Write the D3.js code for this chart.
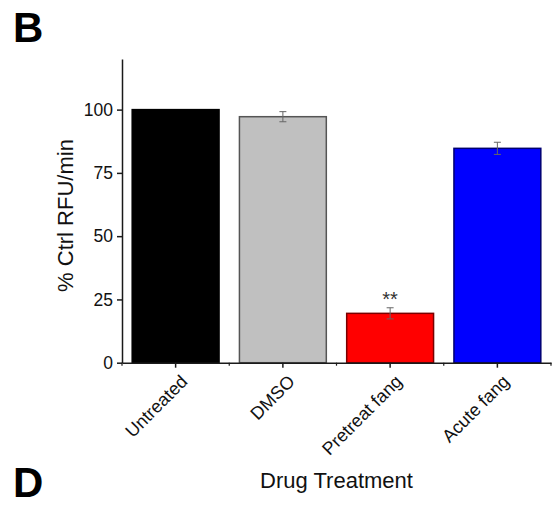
<!DOCTYPE html>
<html>
<head>
<meta charset="utf-8">
<script src="https://cdn.jsdelivr.net/npm/d3@7"></script>
<style>
  html, body { margin: 0; padding: 0; background: #fff; }
  svg { display: block; font-family: "Liberation Sans", Arial, sans-serif; }
</style>
</head>
<body>
<svg id="chart" width="556" height="505"></svg>
<script>
// Treatment groups and measured rate (% of control RFU/min), mean ± SEM
const categories = ["Untreated", "DMSO", "Pretreat fang", "Acute fang"];
const values = [100, 97.2, 19.5, 84.7];
const errors = [0, 2.0, 2.2, 2.4];
const fills = ["#000000", "#c0c0c0", "#ff0000", "#0000ff"];
const strokes = ["#000000", "#555555", "#7a0000", "#000070"];
const significance = ["", "", "**", ""];
const yTicks = [0, 25, 50, 75, 100];

const svg = d3.select("#chart");

const x = d3.scaleBand()
  .domain(categories)
  .range([122, 551])
  .paddingInner(0.19)
  .paddingOuter(0.095);

const y = d3.scaleLinear()
  .domain([0, 120])
  .range([362.7, 59]);

// bars
svg.append("g").selectAll("rect")
  .data(categories)
  .join("rect")
  .attr("x", d => x(d))
  .attr("y", (d, i) => y(values[i]))
  .attr("width", x.bandwidth())
  .attr("height", (d, i) => y(0) - y(values[i]))
  .attr("fill", (d, i) => fills[i])
  .attr("stroke", (d, i) => strokes[i])
  .attr("stroke-width", 1.5);

// error bars
const eb = svg.append("g").attr("stroke", "#666").attr("stroke-width", 1);
categories.forEach((c, i) => {
  if (!errors[i]) return;
  const cx = x(c) + x.bandwidth() / 2;
  const hi = y(values[i] + errors[i]), lo = y(values[i] - errors[i]);
  eb.append("line").attr("x1", cx).attr("x2", cx).attr("y1", hi).attr("y2", lo);
  eb.append("line").attr("x1", cx - 3.5).attr("x2", cx + 3.5).attr("y1", hi).attr("y2", hi);
  eb.append("line").attr("x1", cx - 3.5).attr("x2", cx + 3.5).attr("y1", lo).attr("y2", lo);
});

// significance marks
svg.append("g").selectAll("text")
  .data(categories)
  .join("text")
  .attr("x", d => x(d) + x.bandwidth() / 2)
  .attr("y", (d, i) => y(values[i] + errors[i]) - 2)
  .attr("text-anchor", "middle")
  .attr("font-size", 20)
  .attr("fill", "#333")
  .text((d, i) => significance[i]);

// y axis
const yAxis = svg.append("g")
  .attr("transform", "translate(122,0)")
  .call(d3.axisLeft(y).tickValues(yTicks).tickSize(5).tickSizeOuter(0).tickPadding(4));
yAxis.select(".domain").attr("stroke", "#1a1a1a").attr("stroke-width", 1.5);
yAxis.selectAll(".tick line").attr("stroke", "#1a1a1a").attr("stroke-width", 1.5);
yAxis.selectAll(".tick text")
  .attr("font-size", 17.5)
  .attr("font-family", "Liberation Sans, Arial, sans-serif")
  .attr("fill", "#111");

// x axis
const xAxis = svg.append("g")
  .attr("transform", `translate(0,${y(0)})`)
  .call(d3.axisBottom(x).tickSize(5).tickSizeOuter(0));
xAxis.select(".domain").attr("stroke", "#1a1a1a").attr("stroke-width", 1.5);
xAxis.selectAll(".tick line").attr("stroke", "#1a1a1a").attr("stroke-width", 1.5);
xAxis.selectAll(".tick text")
  .attr("font-size", 18)
  .attr("font-family", "Liberation Sans, Arial, sans-serif")
  .attr("fill", "#111")
  .attr("text-anchor", "end")
  .attr("dy", null)
  .attr("y", 0)
  .attr("transform", "translate(13,20) rotate(-45)");

// minor ticks at category boundaries
const bounds = d3.range(categories.length + 1).map(i => x.range()[0] + i * x.step());
xAxis.append("g").selectAll("line")
  .data(bounds)
  .join("line")
  .attr("x1", d => d).attr("x2", d => d)
  .attr("y1", 0).attr("y2", 3)
  .attr("stroke", "#1a1a1a").attr("stroke-width", 1.2);

// axis titles
svg.append("text")
  .attr("x", 336.5).attr("y", 488)
  .attr("text-anchor", "middle")
  .attr("font-size", 22)
  .attr("fill", "#111")
  .text("Drug Treatment");

svg.append("text")
  .attr("transform", "translate(73,215.5) rotate(-90)")
  .attr("text-anchor", "middle")
  .attr("font-size", 22)
  .attr("fill", "#111")
  .text("% Ctrl RFU/min");

// panel letters
svg.append("text").attr("x", 13).attr("y", 42)
  .attr("font-size", 42).attr("font-weight", "bold").attr("fill", "#000").text("B");
svg.append("text").attr("x", 13).attr("y", 497)
  .attr("font-size", 42).attr("font-weight", "bold").attr("fill", "#000").text("D");
</script>
</body>
</html>
